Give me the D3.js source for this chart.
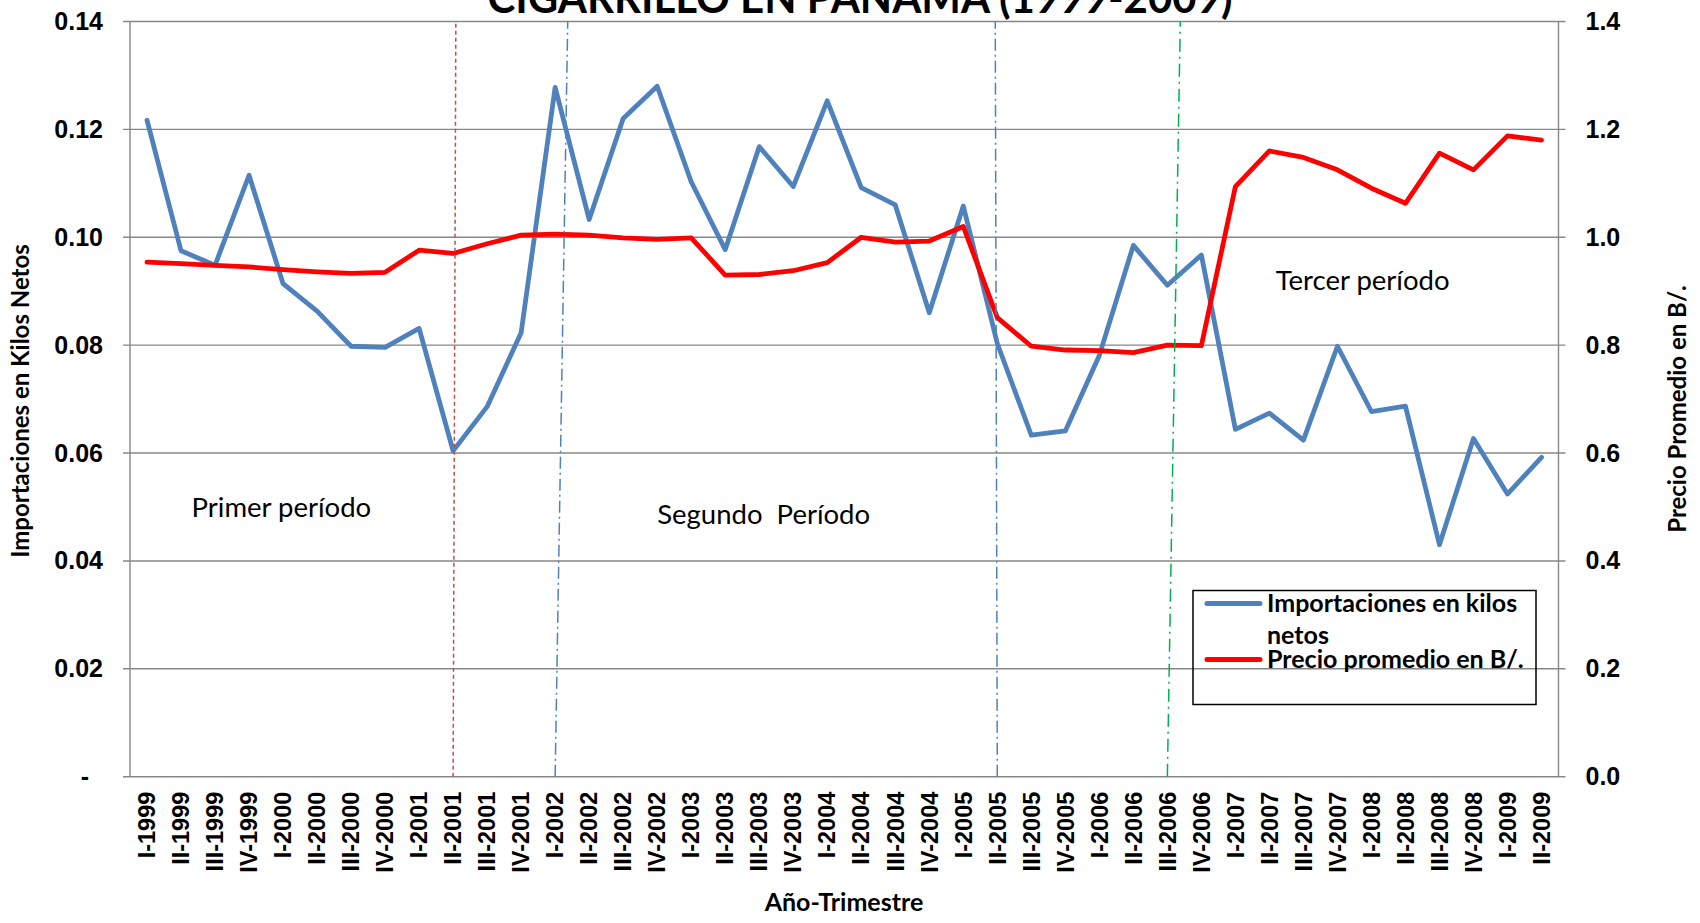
<!DOCTYPE html>
<html>
<head>
<meta charset="utf-8">
<script src="https://cdnjs.cloudflare.com/ajax/libs/d3/7.8.5/d3.min.js"></script>
<style>
    body { margin: 0; background: #fff; }
    svg { display: block; font-family: Lato, "Open Sans", sans-serif; }
    .axis text { font-weight: bold; fill: #000; }
    .note { white-space: pre; }
</style>
</head>
<body>
<div id="chart"></div>
<script>
// quarters on the x axis
var categories = [
    'I-1999', 'II-1999', 'III-1999', 'IV-1999',
    'I-2000', 'II-2000', 'III-2000', 'IV-2000',
    'I-2001', 'II-2001', 'III-2001', 'IV-2001',
    'I-2002', 'II-2002', 'III-2002', 'IV-2002',
    'I-2003', 'II-2003', 'III-2003', 'IV-2003',
    'I-2004', 'II-2004', 'III-2004', 'IV-2004',
    'I-2005', 'II-2005', 'III-2005', 'IV-2005',
    'I-2006', 'II-2006', 'III-2006', 'IV-2006',
    'I-2007', 'II-2007', 'III-2007', 'IV-2007',
    'I-2008', 'II-2008', 'III-2008', 'IV-2008',
    'I-2009', 'II-2009'
];

// left axis series
var importaciones = [
    0.1217, 0.0975, 0.0948, 0.1115, 0.0914, 0.0863, 0.0798, 0.0796, 0.0831, 0.0604,
    0.0686, 0.0823, 0.1278, 0.1033, 0.1220, 0.1280, 0.1103, 0.0977, 0.1168, 0.1094,
    0.1253, 0.1092, 0.1060, 0.0860, 0.1058, 0.0803, 0.0633, 0.0641, 0.0781, 0.0985,
    0.0911, 0.0967, 0.0644, 0.0674, 0.0624, 0.0798, 0.0677, 0.0687, 0.0430, 0.0627,
    0.0524, 0.0592
];

// right axis series
var precios = [
    0.954, 0.951, 0.948, 0.945, 0.940, 0.936, 0.933, 0.935, 0.976, 0.970,
    0.988, 1.004, 1.006, 1.004, 0.999, 0.996, 0.999, 0.930, 0.931, 0.938,
    0.953, 1.000, 0.991, 0.993, 1.020, 0.851, 0.798, 0.791, 0.790, 0.786,
    0.800, 0.799, 1.094, 1.160, 1.148, 1.125, 1.091, 1.063, 1.156, 1.125,
    1.188, 1.180
];

var leftTicks = [0, 0.02, 0.04, 0.06, 0.08, 0.10, 0.12, 0.14];
var rightTicks = [0, 0.2, 0.4, 0.6, 0.8, 1.0, 1.2, 1.4];

// quarters where the hand drawn period separators sit
var periodBreaks = ['II-2001', 'I-2002', 'II-2005', 'III-2006'];

var periodLabels = [
    { text: 'Primer período', cat: 'I-2000', value: 0.0482 },
    { text: 'Segundo  Período', cat: 'III-2003', value: 0.0468 },
    { text: 'Tercer período', cat: 'I-2008', value: 0.0902 }
];

var seriesNames = ['Importaciones en kilos netos', 'Precio promedio en B/.'];

var width = 1700,
    height = 923,
    margin = { left: 130, right: 141.5, top: 21.5, bottom: 146.3 };

var chartWidth = width - margin.left - margin.right;
var chartHeight = height - margin.top - margin.bottom;

var svg = d3.select('#chart').append('svg')
    .attr('width', width)
    .attr('height', height);

var xScale = d3.scaleBand().domain(categories).range([0, chartWidth]).padding(0);
var yLeft = d3.scaleLinear().domain([0, 0.14]).range([chartHeight, 0]);
var yRight = d3.scaleLinear().domain([0, 1.4]).range([chartHeight, 0]);

var xc = function (c) { return xScale(c) + xScale.bandwidth() / 2; };

// Title, cut off by the top edge like the original
svg.append('text')
    .attr('x', 860)
    .attr('y', 13)
    .attr('text-anchor', 'middle')
    .attr('font-size', 44)
    .attr('font-weight', 'bold')
    .attr('textLength', 745)
    .attr('lengthAdjust', 'spacingAndGlyphs')
    .text('CIGARRILLO EN PANAMA (1999-2009)');

var g = svg.append('g')
    .attr('transform', 'translate(' + margin.left + ',' + margin.top + ')');

// gridlines (with the little outside ticks on both sides)
g.append('g').selectAll('line')
    .data(leftTicks)
    .enter().append('line')
    .attr('x1', -7)
    .attr('x2', chartWidth + 7)
    .attr('y1', function (d) { return yLeft(d); })
    .attr('y2', function (d) { return yLeft(d); })
    .attr('stroke', '#878787')
    .attr('stroke-width', 1.4);

// vertical axis lines
g.append('line').attr('x1', 0).attr('x2', 0).attr('y1', 0).attr('y2', chartHeight)
    .attr('stroke', '#878787').attr('stroke-width', 1.4);
g.append('line').attr('x1', chartWidth).attr('x2', chartWidth).attr('y1', 0).attr('y2', chartHeight)
    .attr('stroke', '#878787').attr('stroke-width', 1.4);

var yAxisLeft = d3.axisLeft(yLeft)
    .tickValues(leftTicks)
    .tickSize(0)
    .tickPadding(27)
    .tickFormat(function (d) { return d === 0 ? '-' : d3.format('.2f')(d); });

var yAxisRight = d3.axisRight(yRight)
    .tickValues(rightTicks)
    .tickSize(0)
    .tickPadding(27)
    .tickFormat(d3.format('.1f'));

var leftG = g.append('g').attr('class', 'axis y-left').call(yAxisLeft);
leftG.select('.domain').remove();
leftG.selectAll('text').attr('font-size', 25);
leftG.selectAll('text').filter(function (d) { return d === 0; }).attr('dx', -14);

var rightG = g.append('g').attr('class', 'axis y-right')
    .attr('transform', 'translate(' + chartWidth + ',0)')
    .call(yAxisRight);
rightG.select('.domain').remove();
rightG.selectAll('text').attr('font-size', 25);

var xAxis = d3.axisBottom(xScale).tickSize(0);
var xG = g.append('g').attr('class', 'axis x')
    .attr('transform', 'translate(0,' + chartHeight + ')')
    .call(xAxis);
xG.select('.domain').remove();
xG.selectAll('text')
    .attr('font-size', 23.5)
    .attr('transform', 'rotate(-90)')
    .attr('text-anchor', 'end')
    .attr('x', -15)
    .attr('y', 0)
    .attr('dy', '0.35em');

// axis titles
svg.append('text')
    .attr('transform', 'translate(' + 29 + ',' + 401 + ') rotate(-90)')
    .attr('text-anchor', 'middle')
    .attr('font-size', 24)
    .attr('font-weight', 'bold')
    .text('Importaciones en Kilos Netos');

svg.append('text')
    .attr('transform', 'translate(' + 1686 + ',' + 409 + ') rotate(-90)')
    .attr('text-anchor', 'middle')
    .attr('font-size', 24)
    .attr('font-weight', 'bold')
    .text('Precio Promedio en B/.');

svg.append('text')
    .attr('x', 844)
    .attr('y', 911)
    .attr('text-anchor', 'middle')
    .attr('font-size', 25)
    .attr('font-weight', 'bold')
    .text('Año-Trimestre');

// the two series
var lineLeft = d3.line()
    .x(function (d, i) { return xc(categories[i]); })
    .y(function (d) { return yLeft(d); });

var lineRight = d3.line()
    .x(function (d, i) { return xc(categories[i]); })
    .y(function (d) { return yRight(d); });

g.append('path')
    .datum(importaciones)
    .attr('d', lineLeft)
    .attr('fill', 'none')
    .attr('stroke', '#4F81BD')
    .attr('stroke-width', 4.8)
    .attr('stroke-linejoin', 'round')
    .attr('stroke-linecap', 'round');

g.append('path')
    .datum(precios)
    .attr('d', lineRight)
    .attr('fill', 'none')
    .attr('stroke', '#FF0000')
    .attr('stroke-width', 4.8)
    .attr('stroke-linejoin', 'round')
    .attr('stroke-linecap', 'round');

// period separators, drawn by hand in the original so they lean a bit
var breakStyles = [
    { color: '#C0504D', dash: '4,3', lean: 0.08 },
    { color: '#4F81BD', dash: '12,4,2,4', lean: 0.37 },
    { color: '#4F81BD', dash: '12,4,2,4', lean: -0.06 },
    { color: '#00B050', dash: '13,5,2,5', lean: 0.38 }
];

g.append('g').selectAll('line')
    .data(periodBreaks)
    .enter().append('line')
    .attr('x1', function (d) { return xc(d); })
    .attr('y1', chartHeight)
    .attr('x2', function (d, i) { return xc(d) + breakStyles[i].lean * xScale.bandwidth(); })
    .attr('y2', 0)
    .attr('stroke', function (d, i) { return breakStyles[i].color; })
    .attr('stroke-dasharray', function (d, i) { return breakStyles[i].dash; })
    .attr('stroke-width', 1.5);

// period annotations
var labelShift = [-0.05, 0.13, -0.26];
g.append('g').selectAll('text')
    .data(periodLabels)
    .enter().append('text')
    .attr('class', 'note')
    .attr('x', function (d, i) { return xc(d.cat) + labelShift[i] * xScale.bandwidth(); })
    .attr('y', function (d) { return yLeft(d.value); })
    .attr('text-anchor', 'middle')
    .attr('font-size', 27.5)
    .text(function (d) { return d.text; });

// legend
var legend = svg.append('g').attr('transform', 'translate(1193,590.5)');
legend.append('rect')
    .attr('width', 343)
    .attr('height', 114)
    .attr('fill', 'none')
    .attr('stroke', '#000')
    .attr('stroke-width', 1.5);

var legendColors = ['#4F81BD', '#FF0000'];
var legendRows = [13, 69];

legend.selectAll('line.key')
    .data(seriesNames)
    .enter().append('line')
    .attr('class', 'key')
    .attr('x1', 14)
    .attr('x2', 67)
    .attr('y1', function (d, i) { return legendRows[i]; })
    .attr('y2', function (d, i) { return legendRows[i]; })
    .attr('stroke', function (d, i) { return legendColors[i]; })
    .attr('stroke-width', 5)
    .attr('stroke-linecap', 'round');

var legendText = legend.selectAll('text')
    .data(seriesNames)
    .enter().append('text')
    .attr('x', 74)
    .attr('y', function (d, i) { return legendRows[i] + 8; })
    .attr('font-size', 25)
    .attr('font-weight', 'bold');

// first entry wraps onto two lines like in Excel
legendText.each(function (d, i) {
    var t = d3.select(this);
    if (i === 0) {
        t.append('tspan').attr('x', 74).text('Importaciones en kilos');
        t.append('tspan').attr('x', 74).attr('dy', 32).text('netos');
    } else {
        t.text(d);
    }
});
</script>
</body>
</html>
